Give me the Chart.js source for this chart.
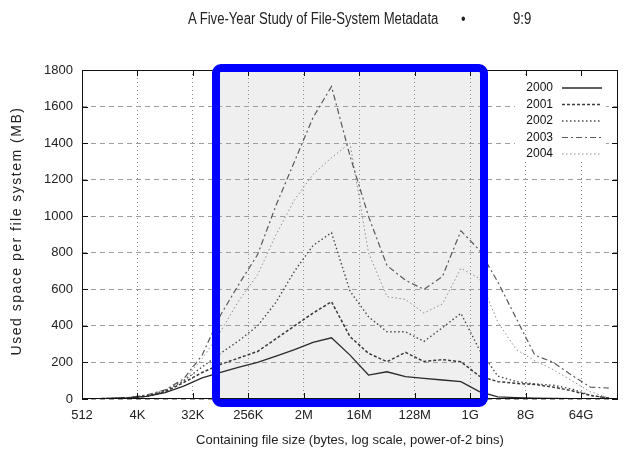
<!DOCTYPE html>
<html>
<head>
<meta charset="utf-8">
<script src="https://cdn.jsdelivr.net/npm/chart.js@4.4.0/dist/chart.umd.min.js"></script>
<style>
    html, body { margin: 0; padding: 0; background: #fff; }
    #wrap { position: relative; width: 628px; height: 452px; overflow: hidden; }
    #chart { position: absolute; left: 0; top: 0; }
    .head { position: absolute; top: 10px; white-space: nowrap; font-family: "Liberation Sans", Arial, sans-serif; font-size: 16px; color: #222; transform: scaleX(0.82); transform-origin: left top; }
</style>
</head>
<body>
<div id="wrap">
    <canvas id="chart" width="628" height="452"></canvas>
    <div class="head" style="left:188px">A Five-Year Study of File-System Metadata</div>
    <div class="head" style="left:461px">•</div>
    <div class="head" style="left:513px">9:9</div>
</div>
<script>
// bin centres, as log2(bytes)
const binExponents = [9.5, 10.5, 11.5, 12.5, 13.5, 14.5, 15.5, 16.5, 17.5, 18.5,
    19.5, 20.5, 21.5, 22.5, 23.5, 24.5, 25.5, 26.5, 27.5, 28.5,
    29.5, 30.5, 31.5, 32.5, 33.5, 34.5, 35.5, 36.5, 37.5];

// x tick positions (log2) and their labels
const tickExponents = [9, 12, 15, 18, 21, 24, 27, 30, 33, 36];
const tickLabels = ['512', '4K', '32K', '256K', '2M', '16M', '128M', '1G', '8G', '64G'];

const years = ['2000', '2001', '2002', '2003', '2004'];

// used space per file system (MB)
const used2000 = [1, 3, 6, 14, 35, 70, 115, 145, 175, 200, 235, 270, 310, 335, 240, 131, 149, 122, 113, 104, 95, 40, 12, 8, 5, 3, 2, 1, 0];
const used2001 = [1, 3, 6, 15, 40, 90, 145, 190, 225, 260, 330, 400, 470, 532, 341, 250, 204, 255, 205, 215, 204, 125, 95, 85, 80, 65, 45, 20, 5];
const used2002 = [1, 3, 7, 18, 45, 100, 175, 250, 320, 400, 530, 700, 840, 910, 590, 450, 368, 368, 315, 390, 469, 270, 125, 95, 83, 75, 55, 20, 5];
const used2003 = [1, 3, 8, 22, 50, 110, 240, 460, 630, 790, 1060, 1300, 1540, 1710, 1330, 1000, 730, 650, 600, 670, 920, 815, 640, 440, 240, 200, 130, 65, 60];
const used2004 = [1, 3, 8, 20, 45, 100, 220, 370, 540, 680, 900, 1090, 1230, 1320, 1400, 800, 560, 545, 470, 520, 715, 660, 420, 270, 210, 160, 100, 40, 5];

const seriesValues = [used2000, used2001, used2002, used2003, used2004];

// highlighted region, in log2 units
const highlightFrom = 16.25;
const highlightTo = 30.75;

const lineStyles = [
    { color: '#2a2a2a', width: 1.3, dash: [] },
    { color: '#3a3a3a', width: 1.5, dash: [3, 2] },
    { color: '#4a4a4a', width: 1.4, dash: [1.5, 2.5] },
    { color: '#5a5a5a', width: 1.2, dash: [6, 3, 2, 3] },
    { color: '#8e8e8e', width: 1, dash: [1.5, 2.5] }
];

const FONT = '"Liberation Sans", Arial, sans-serif';

const highlightBox = {
    id: 'highlightBox',
    beforeDraw(chart) {
        const x = chart.scales.x, a = chart.chartArea, ctx = chart.ctx;
        const x1 = x.getPixelForValue(highlightFrom), x2 = x.getPixelForValue(highlightTo);
        ctx.save();
        ctx.fillStyle = '#efefef';
        ctx.fillRect(x1, a.top - 2, x2 - x1, a.bottom - a.top + 6);
        ctx.restore();
    },
    afterDraw(chart) {
        const x = chart.scales.x, a = chart.chartArea, ctx = chart.ctx;
        const x1 = x.getPixelForValue(highlightFrom), x2 = x.getPixelForValue(highlightTo);
        ctx.save();
        ctx.strokeStyle = '#0000ff';
        ctx.lineWidth = 8;
        ctx.beginPath();
        ctx.roundRect(x1, a.top - 2, x2 - x1, a.bottom - a.top + 6, 5);
        ctx.stroke();
        ctx.restore();

        // y axis title, letter-spaced
        ctx.save();
        ctx.translate(17, 231);
        ctx.rotate(-Math.PI / 2);
        ctx.font = '14px ' + FONT;
        ctx.letterSpacing = '1.5px';
        ctx.fillStyle = '#222';
        ctx.textAlign = 'center';
        ctx.textBaseline = 'middle';
        ctx.fillText('Used space per file system (MB)', 0, 0);
        ctx.restore();
    }
};

// gnuplot-like frame, inward ticks and boxed key
const frameAndKey = {
    id: 'frameAndKey',
    afterDatasetsDraw(chart) {
        const a = chart.chartArea, ctx = chart.ctx;
        const xs = chart.scales.x, ys = chart.scales.y;
        ctx.save();
        ctx.strokeStyle = '#111';
        ctx.lineWidth = 1;
        ctx.setLineDash([]);
        ctx.strokeRect(a.left + 0.5, a.top + 0.5, a.right - a.left - 1, a.bottom - a.top - 1);
        ctx.beginPath();
        ys.ticks.forEach(t => {
            const py = Math.round(ys.getPixelForValue(t.value)) + 0.5;
            ctx.moveTo(a.left, py); ctx.lineTo(a.left + 6, py);
            ctx.moveTo(a.right, py); ctx.lineTo(a.right - 6, py);
        });
        xs.ticks.forEach(t => {
            const px = Math.round(xs.getPixelForValue(t.value)) + 0.5;
            ctx.moveTo(px, a.bottom); ctx.lineTo(px, a.bottom - 6);
            ctx.moveTo(px, a.top); ctx.lineTo(px, a.top + 6);
        });
        ctx.stroke();

        // key
        ctx.fillStyle = '#fff';
        ctx.fillRect(515, 77, 91, 84);
        ctx.font = '12px ' + FONT;
        ctx.textAlign = 'right';
        ctx.textBaseline = 'middle';
        chart.data.datasets.forEach((ds, i) => {
            const ky = 88 + i * 16.5;
            ctx.fillStyle = '#111';
            ctx.fillText(ds.label, 553, ky);
            ctx.strokeStyle = ds.borderColor;
            ctx.lineWidth = ds.borderWidth;
            ctx.setLineDash(ds.borderDash);
            ctx.beginPath();
            ctx.moveTo(562, ky); ctx.lineTo(602, ky);
            ctx.stroke();
        });
        ctx.restore();
    }
};

const ctx = document.getElementById('chart').getContext('2d');
const chart = new Chart(ctx, {
    type: 'line',
    data: {
        datasets: years.map((year, i) => ({
            label: year,
            data: binExponents.map((b, j) => ({ x: b, y: seriesValues[i][j] })),
            borderColor: lineStyles[i].color,
            borderWidth: lineStyles[i].width,
            borderDash: lineStyles[i].dash,
            pointRadius: 0,
            tension: 0,
            fill: false
        }))
    },
    options: {
        responsive: false,
        animation: false,
        devicePixelRatio: 1,
        layout: { padding: { top: 70, right: 10, left: 0, bottom: 0 } },
        plugins: {
            legend: { display: false },
            tooltip: { enabled: false }
        },
        scales: {
            x: {
                type: 'linear',
                min: 9,
                max: 38,
                afterBuildTicks: scale => {
                    scale.ticks = tickExponents.map(v => ({ value: v }));
                },
                afterFit: scale => { scale.height = 53; },
                ticks: {
                    autoSkip: false,
                    maxRotation: 0,
                    padding: 9,
                    color: '#222',
                    font: { family: FONT, size: 13 },
                    callback: v => tickLabels[tickExponents.indexOf(v)]
                },
                grid: { color: '#8c8c8c', lineWidth: 1, drawTicks: false },
                border: { display: false, dash: [1, 3] },
                title: {
                    display: true,
                    text: 'Containing file size (bytes, log scale, power-of-2 bins)',
                    color: '#222',
                    font: { family: FONT, size: 13 },
                    padding: { top: 4, bottom: 4 }
                }
            },
            y: {
                min: 0,
                max: 1800,
                afterFit: scale => { scale.width = 82; },
                ticks: {
                    stepSize: 200,
                    padding: 9,
                    color: '#222',
                    font: { family: FONT, size: 13 },
                    callback: v => String(v)
                },
                grid: { color: '#9e9e9e', lineWidth: 1, drawTicks: false },
                border: { display: false, dash: [5, 4] }
            }
        }
    },
    plugins: [highlightBox, frameAndKey]
});
</script>
</body>
</html>
